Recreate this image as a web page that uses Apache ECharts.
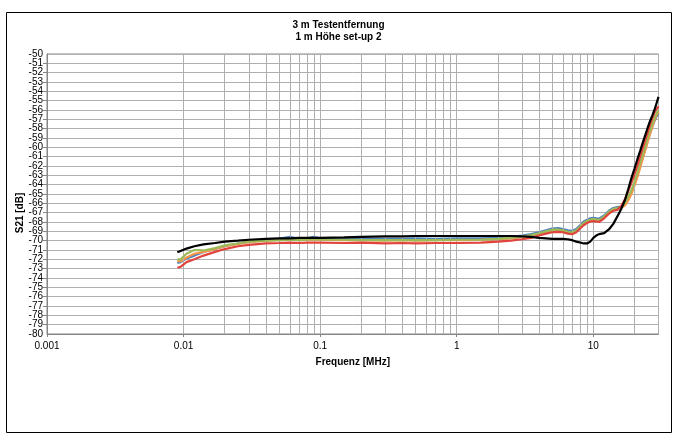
<!DOCTYPE html>
<html><head><meta charset="utf-8">
<script src="https://cdn.jsdelivr.net/npm/echarts@6/dist/echarts.min.js"></script>
<style>html,body{margin:0;padding:0;background:#fff}#c{width:677px;height:441px}</style>
</head><body><div id="c"></div>
<script>
const titleLines = ['3 m Testentfernung', '1 m Höhe set-up 2'];
const xAxisTitle = 'Frequenz [MHz]';
const yAxisTitle = 'S21 [dB]';
const xTickLabels = ['0.001', '0.01', '0.1', '1', '10'];
const freq = [0.009,0.0095,0.0105,0.012,0.014,0.017,0.02,0.025,0.03,0.04,0.05,0.06,0.07,0.08,0.09,0.1,0.15,0.2,0.3,0.4,0.5,0.7,1,1.5,2,2.5,3,3.5,4,4.5,5,5.5,6,6.5,7,7.5,8,8.5,9,9.5,10,10.5,11,12,13,14,15,16,17,18,19,20,21,22,23,24,25,26,27,28,29,30];
const seriesBlue = [-72.4,-72.3,-71.9,-71.6,-71.2,-70.9,-70.6,-70.3,-70.1,-69.9,-69.8,-69.6,-69.8,-69.75,-69.6,-69.75,-69.75,-69.8,-69.8,-69.8,-69.75,-69.8,-69.75,-69.75,-69.7,-69.6,-69.45,-69.3,-69.1,-68.9,-68.7,-68.65,-68.75,-68.9,-68.95,-68.75,-68.35,-67.95,-67.75,-67.6,-67.55,-67.6,-67.65,-67.3,-66.8,-66.5,-66.4,-66.35,-66.1,-65.5,-64.8,-64.0,-63.0,-62.0,-61.1,-60.2,-59.3,-58.5,-57.8,-57.2,-56.7,-56.4];
const seriesOrange = [-72.2,-72.2,-71.8,-71.4,-71.2,-70.9,-70.6,-70.35,-70.15,-70.0,-69.95,-69.9,-69.95,-69.9,-69.9,-69.9,-69.95,-69.95,-70.0,-69.95,-70.0,-69.95,-69.95,-69.9,-69.85,-69.75,-69.6,-69.45,-69.25,-69.05,-68.9,-68.85,-68.95,-69.1,-69.15,-68.95,-68.55,-68.15,-67.95,-67.8,-67.75,-67.8,-67.85,-67.5,-67.0,-66.7,-66.6,-66.5,-66.25,-65.7,-65.0,-64.1,-63.2,-62.2,-61.2,-60.3,-59.4,-58.6,-57.8,-57.1,-56.6,-56.2];
const seriesGreen = [-72.0,-72.0,-71.4,-71.0,-71.05,-70.8,-70.5,-70.3,-70.1,-70.0,-69.95,-69.9,-69.95,-69.9,-69.85,-69.9,-69.9,-69.95,-69.95,-69.95,-69.95,-69.95,-69.9,-69.9,-69.8,-69.7,-69.55,-69.4,-69.2,-69.0,-68.85,-68.8,-68.9,-69.05,-69.1,-68.9,-68.5,-68.1,-67.9,-67.75,-67.7,-67.75,-67.8,-67.4,-66.9,-66.6,-66.5,-66.4,-66.0,-65.3,-64.6,-63.7,-62.7,-61.7,-60.8,-59.9,-59.0,-58.2,-57.5,-56.9,-56.4,-56.0];
const seriesRed = [-72.9,-72.8,-72.3,-72.0,-71.6,-71.2,-70.9,-70.6,-70.45,-70.3,-70.25,-70.2,-70.25,-70.2,-70.2,-70.2,-70.25,-70.2,-70.3,-70.25,-70.3,-70.25,-70.25,-70.2,-70.1,-70.0,-69.85,-69.7,-69.45,-69.25,-69.1,-69.05,-69.1,-69.25,-69.3,-69.1,-68.7,-68.35,-68.1,-67.95,-67.9,-67.95,-68.0,-67.6,-67.1,-66.8,-66.7,-66.3,-65.6,-64.7,-63.8,-62.9,-62.0,-61.0,-60.1,-59.2,-58.4,-57.6,-56.9,-56.3,-55.9,-55.6];
const seriesBlack = [-71.25,-71.1,-70.85,-70.6,-70.4,-70.25,-70.1,-70.0,-69.9,-69.8,-69.75,-69.75,-69.7,-69.7,-69.7,-69.7,-69.65,-69.6,-69.55,-69.55,-69.5,-69.5,-69.5,-69.5,-69.5,-69.5,-69.55,-69.6,-69.7,-69.75,-69.8,-69.8,-69.8,-69.85,-69.95,-70.1,-70.2,-70.3,-70.3,-70.1,-69.7,-69.45,-69.3,-69.2,-68.8,-68.2,-67.4,-66.6,-65.7,-64.5,-63.3,-62.3,-61.3,-60.4,-59.5,-58.7,-57.9,-57.2,-56.6,-56.0,-55.3,-54.6];
const yMin = -80, yMax = -50;

const FONT = 'Liberation Sans, Arial, sans-serif';
const minorX = [];
[0.001,0.01,0.1,1,10].forEach(d => { for (let k = 2; k <= 9; k++) { const v = d*k; if (v < 30) minorX.push(+v.toPrecision(3)); } });

function pairs(ys){ return freq.map((f,i)=>[f, ys[i]]); }
function lineSeries(name, ys, color, z){
  return {name, type:'line', data:pairs(ys), showSymbol:false, symbol:'none', z,
    lineStyle:{color, width:2.2}, itemStyle:{color}, clip:true};
}

const chart = echarts.init(document.getElementById('c'), null, {renderer:'canvas'});
chart.setOption({
  animation:false,
  backgroundColor:'#fff',
  title:{text:titleLines.join('\n'), left:'center', top:14,
    textStyle:{fontFamily:FONT, fontSize:10, fontWeight:'bold', color:'#000', lineHeight:12}},
  graphic:[
    {type:'rect', shape:{x:6.5, y:12.5, width:665, height:420}, style:{fill:null, stroke:'#000', lineWidth:1}, silent:true, z:-1},
    {type:'text', x:20, y:213, rotation:Math.PI/2, style:{text:yAxisTitle, font:'bold 10px '+FONT, fill:'#000', textAlign:'center', textVerticalAlign:'middle'}}
  ],
  grid:{left:47, right:18.5, top:54, bottom:107, show:true, borderColor:'#868686', borderWidth:1},
  xAxis:{type:'log', logBase:10, min:0.001, max:30,
    name:xAxisTitle, nameLocation:'middle', nameGap:23,
    nameTextStyle:{fontFamily:FONT, fontSize:10, fontWeight:'bold', color:'#000'},
    axisLine:{show:true, lineStyle:{color:'#868686'}},
    axisTick:{show:true, length:3, lineStyle:{color:'#868686'}},
    axisLabel:{fontFamily:FONT, fontSize:10, color:'#000', margin:7, showMaxLabel:false,
      formatter:function(v){ const e = Math.log10(v); const r = Math.round(e); if (Math.abs(e-r) > 0.01) return ''; const idx = r + 3; return xTickLabels[idx] || ''; }},
    splitLine:{show:true, lineStyle:{color:'#b0b0b0', width:1}}
  },
  yAxis:[
    {type:'value', min:yMin, max:yMax, interval:1,
      axisLine:{show:true, lineStyle:{color:'#868686'}},
      axisTick:{show:true, length:4, lineStyle:{color:'#868686'}},
      axisLabel:{fontFamily:FONT, fontSize:10, color:'#000', margin:4},
      splitLine:{show:true, lineStyle:{color:'#b0b0b0', width:1}}
    },
    {type:'value', min:yMin, max:yMax, interval:1, position:'left',
      axisLine:{show:false}, axisTick:{show:false}, splitLine:{show:false},
      axisLabel:{fontFamily:FONT, fontSize:10, color:'#000', margin:4, showMinLabel:true, showMaxLabel:true,
        formatter:function(v){ return (Math.abs(v-yMin)<1e-6 || Math.abs(v-yMax)<1e-6) ? String(v) : ''; }}
    }
  ],
  series:[
    {name:'grid', type:'line', data:[[0.01,-70]], symbol:'none', lineStyle:{opacity:0}, z:1, silent:true,
      markLine:{silent:true, symbol:['none','none'], label:{show:false}, animation:false,
        lineStyle:{color:'#b0b0b0', type:'solid', width:1},
        data:minorX.map(v=>({xAxis:v}))}},
    lineSeries('s1', seriesBlue, '#4F81BD', 3),
    lineSeries('s2', seriesOrange, '#F79646', 4),
    lineSeries('s3', seriesGreen, '#9BBB59', 5),
    lineSeries('s4', seriesRed, '#E0443C', 6),
    lineSeries('s5', seriesBlack, '#000000', 7)
  ]
});
</script></body></html>
